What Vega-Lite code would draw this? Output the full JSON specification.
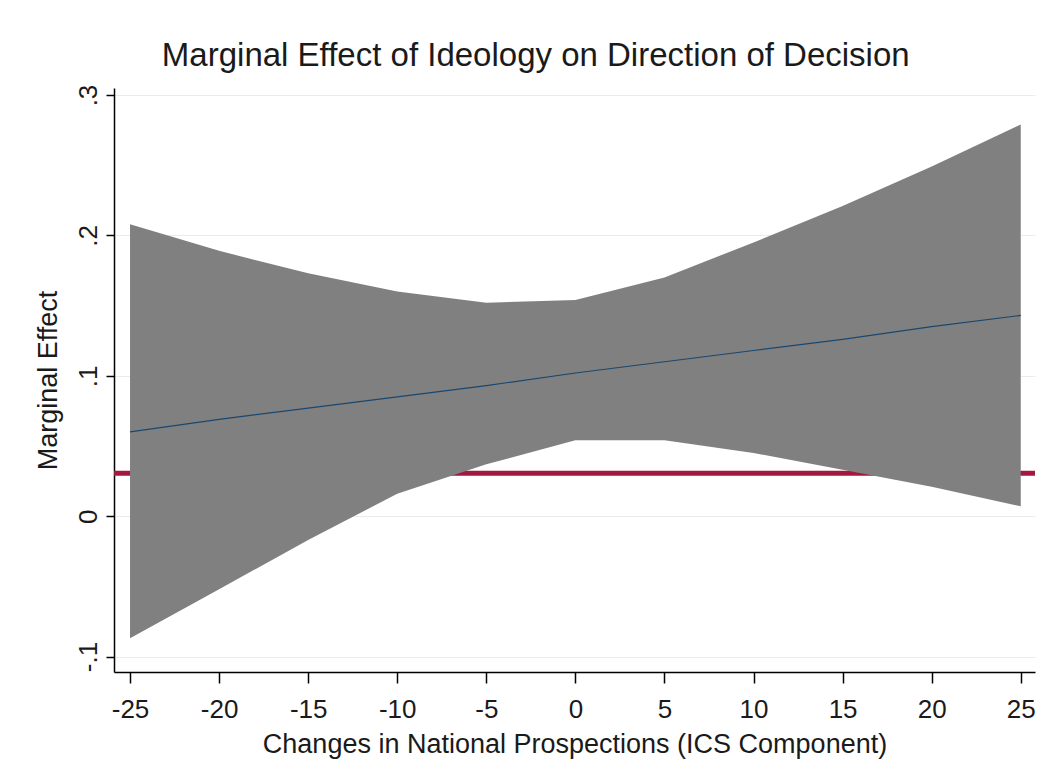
{
  "$schema": "https://vega.github.io/schema/vega-lite/v6.json",
  "width": 921,
  "height": 584,
  "autosize": "none",
  "padding": {"left": 114, "top": 88, "right": 14, "bottom": 98},
  "background": "white",
  "config": {
    "view": {"stroke": null},
    "font": "Liberation Sans, Arial, sans-serif",
    "axis": {
      "domainColor": "#000000",
      "domainWidth": 1.5,
      "tickColor": "#000000",
      "tickWidth": 1.5,
      "labelColor": "#1a1a1a",
      "titleColor": "#1a1a1a",
      "labelFont": "Liberation Sans, Arial, sans-serif",
      "titleFont": "Liberation Sans, Arial, sans-serif",
      "labelFontSize": 26,
      "titleFontSize": 27,
      "titleFontWeight": "normal",
      "labelOverlap": false,
      "labelFlush": false
    },
    "axisX": {"grid": false, "tickSize": 11, "labelPadding": 13, "titlePadding": 9},
    "axisY": {
      "grid": true,
      "gridColor": "#ebebeb",
      "gridWidth": 1,
      "tickSize": 8,
      "labelAngle": -90,
      "labelAlign": "center",
      "labelBaseline": "middle",
      "labelPadding": 18,
      "titlePadding": 13
    }
  },
  "title": {
    "text": "Marginal Effect of Ideology on Direction of Decision",
    "font": "Liberation Sans, Arial, sans-serif",
    "fontSize": 33,
    "fontWeight": "normal",
    "color": "#1a1a1a",
    "anchor": "middle",
    "frame": "bounds",
    "offset": 11
  },
  "datasets": {
    "band": [
      {"ics": -25, "lower": -0.087, "upper": 0.208, "effect": 0.060},
      {"ics": -20, "lower": -0.052, "upper": 0.189, "effect": 0.069},
      {"ics": -15, "lower": -0.017, "upper": 0.173, "effect": 0.077},
      {"ics": -10, "lower": 0.016, "upper": 0.160, "effect": 0.085},
      {"ics": -5, "lower": 0.037, "upper": 0.152, "effect": 0.093},
      {"ics": 0, "lower": 0.054, "upper": 0.154, "effect": 0.102},
      {"ics": 5, "lower": 0.054, "upper": 0.170, "effect": 0.110},
      {"ics": 10, "lower": 0.045, "upper": 0.195, "effect": 0.118},
      {"ics": 15, "lower": 0.033, "upper": 0.221, "effect": 0.126},
      {"ics": 20, "lower": 0.021, "upper": 0.249, "effect": 0.135},
      {"ics": 25, "lower": 0.007, "upper": 0.279, "effect": 0.143}
    ],
    "reference": [{"level": 0.0306}]
  },
  "layer": [
    {
      "data": {"name": "reference"},
      "mark": {"type": "rule", "color": "#a3183f", "strokeWidth": 5},
      "encoding": {
        "y": {
          "field": "level",
          "type": "quantitative",
          "title": "Marginal Effect",
          "scale": {"domain": [-0.111, 0.305], "nice": false, "zero": false},
          "axis": {
            "values": [-0.1, 0, 0.1, 0.2, 0.3],
            "labelExpr": "datum.value == 0 ? '0' : replace(datum.value + '', '0.', '.')"
          }
        }
      }
    },
    {
      "data": {"name": "band"},
      "mark": {"type": "area", "color": "#808080", "opacity": 1},
      "encoding": {
        "x": {
          "field": "ics",
          "type": "quantitative",
          "title": "Changes in National Prospections (ICS Component)",
          "scale": {"domain": [-25.9, 25.8], "nice": false, "zero": false},
          "axis": {
            "values": [-25, -20, -15, -10, -5, 0, 5, 10, 15, 20, 25],
            "labelExpr": "datum.value + ''"
          }
        },
        "y": {"field": "lower", "type": "quantitative", "title": "Marginal Effect"},
        "y2": {"field": "upper"}
      }
    },
    {
      "data": {"name": "band"},
      "mark": {"type": "line", "color": "#1a476f", "strokeWidth": 1.2},
      "encoding": {
        "x": {"field": "ics", "type": "quantitative", "title": "Changes in National Prospections (ICS Component)"},
        "y": {"field": "effect", "type": "quantitative", "title": "Marginal Effect"}
      }
    }
  ]
}
